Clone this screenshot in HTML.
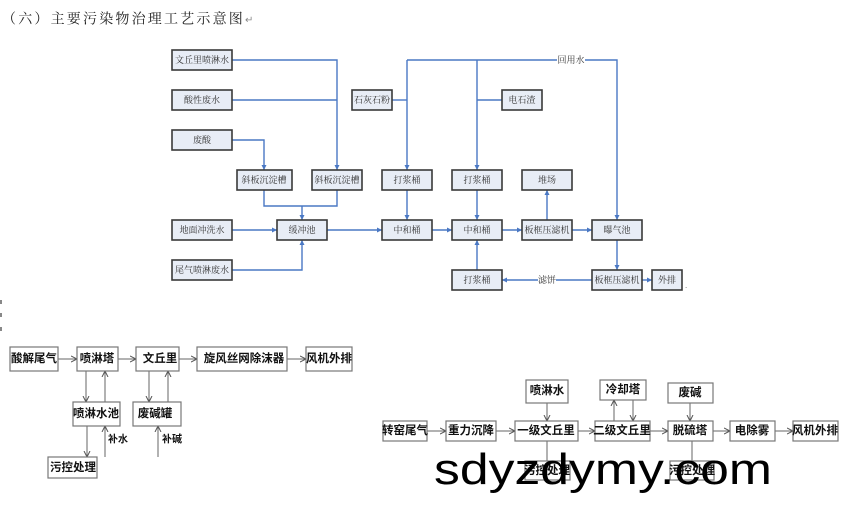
<!DOCTYPE html>
<html><head><meta charset="utf-8"><style>
html,body{margin:0;padding:0;background:#fff;width:868px;height:511px;overflow:hidden}
svg{display:block}
.t{font-family:"Liberation Serif","Noto Serif CJK SC",serif;font-size:9px;fill:#333;text-anchor:middle;dominant-baseline:central}
.b{font-family:"Liberation Sans","Noto Sans CJK SC",sans-serif;font-size:11.5px;font-weight:bold;fill:#111;text-anchor:middle;dominant-baseline:central}
.bx{fill:#e8edf6;stroke:#3a3a3a;stroke-width:1.6}
.wb{fill:#fff;stroke:#777;stroke-width:1.2}
.ln{stroke:#4a78c4;stroke-width:1.4;fill:none}
.gl{stroke:#666;stroke-width:1;fill:none}
</style></head><body>
<svg width="868" height="511" viewBox="0 0 868 511">
<defs>
<marker id="a" markerWidth="6" markerHeight="6" refX="5" refY="3" orient="auto" markerUnits="userSpaceOnUse"><path d="M0,0.5 L5,3 L0,5.5z" fill="#4a78c4"/></marker>
<marker id="g" markerWidth="8" markerHeight="8" refX="6" refY="4" orient="auto" markerUnits="userSpaceOnUse"><path d="M0,1 L6,4 L0,7" fill="none" stroke="#555" stroke-width="1"/></marker>
</defs>
<text x="2" y="20" style="font-family:'Liberation Serif','Noto Serif CJK SC',serif;font-size:14px;fill:#222;dominant-baseline:central;letter-spacing:2.2px">（六）主要污染物治理工艺示意图<tspan font-size="10" fill="#888">↵</tspan></text>
<rect x="0" y="300" width="2" height="4" fill="#888"/><rect x="0" y="313" width="2" height="4" fill="#888"/><rect x="0" y="327" width="2" height="4" fill="#888"/>

<path class="ln" d="M232,60 H337 V170" marker-end="url(#a)"/>
<path class="ln" d="M232,100 H337"/>
<path class="ln" d="M232,140 H264 V170" marker-end="url(#a)"/>
<path class="ln" d="M264,190 V206 H337 V190"/>
<path class="ln" d="M302,206 V220" marker-end="url(#a)"/>
<path class="ln" d="M232,230 H277" marker-end="url(#a)"/>
<path class="ln" d="M232,270 H302 V240" marker-end="url(#a)"/>
<path class="ln" d="M327,230 H382" marker-end="url(#a)"/>
<path class="ln" d="M407,60 V170" marker-end="url(#a)"/>
<path class="ln" d="M407,60 H557 M585,60 H617 V220" marker-end="url(#a)"/>
<path class="ln" d="M477,60 V170" marker-end="url(#a)"/>
<path class="ln" d="M392,100 H407"/>
<path class="ln" d="M502,100 H477"/>
<path class="ln" d="M407,190 V220" marker-end="url(#a)"/>
<path class="ln" d="M477,190 V220" marker-end="url(#a)"/>
<path class="ln" d="M432,230 H452" marker-end="url(#a)"/>
<path class="ln" d="M502,230 H522" marker-end="url(#a)"/>
<path class="ln" d="M547,220 V190" marker-end="url(#a)"/>
<path class="ln" d="M572,230 H592" marker-end="url(#a)"/>
<path class="ln" d="M617,240 V270" marker-end="url(#a)"/>
<path class="ln" d="M642,280 H652" marker-end="url(#a)"/>
<path class="ln" d="M592,280 H556 M538,280 H502" marker-end="url(#a)"/>
<path class="ln" d="M477,270 V240" marker-end="url(#a)"/>
<text class="t" x="571" y="60">回用水</text>
<text class="t" x="547" y="280">滤饼</text>

<g>
<rect class="bx" x="172" y="50" width="60" height="20"/><text class="t" x="202" y="60">文丘里喷淋水</text>
<rect class="bx" x="172" y="90" width="60" height="20"/><text class="t" x="202" y="100">酸性废水</text>
<rect class="bx" x="172" y="130" width="60" height="20"/><text class="t" x="202" y="140">废酸</text>
<rect class="bx" x="237" y="170" width="55" height="20"/><text class="t" x="264" y="180">斜板沉淀槽</text>
<rect class="bx" x="312" y="170" width="50" height="20"/><text class="t" x="337" y="180">斜板沉淀槽</text>
<rect class="bx" x="172" y="220" width="60" height="20"/><text class="t" x="202" y="230">地面冲洗水</text>
<rect class="bx" x="277" y="220" width="50" height="20"/><text class="t" x="302" y="230">缓冲池</text>
<rect class="bx" x="172" y="260" width="60" height="20"/><text class="t" x="202" y="270">尾气喷淋废水</text>
<rect class="bx" x="352" y="90" width="40" height="20"/><text class="t" x="372" y="100">石灰石粉</text>
<rect class="bx" x="382" y="170" width="50" height="20"/><text class="t" x="407" y="180">打浆桶</text>
<rect class="bx" x="382" y="220" width="50" height="20"/><text class="t" x="407" y="230">中和桶</text>
<rect class="bx" x="502" y="90" width="40" height="20"/><text class="t" x="522" y="100">电石渣</text>
<rect class="bx" x="452" y="170" width="50" height="20"/><text class="t" x="477" y="180">打浆桶</text>
<rect class="bx" x="452" y="220" width="50" height="20"/><text class="t" x="477" y="230">中和桶</text>
<rect class="bx" x="452" y="270" width="50" height="20"/><text class="t" x="477" y="280">打浆桶</text>
<rect class="bx" x="522" y="170" width="50" height="20"/><text class="t" x="547" y="180">堆场</text>
<rect class="bx" x="522" y="220" width="50" height="20"/><text class="t" x="547" y="230">板框压滤机</text>
<rect class="bx" x="592" y="220" width="50" height="20"/><text class="t" x="617" y="230">曝气池</text>
<rect class="bx" x="592" y="270" width="50" height="20"/><text class="t" x="617" y="280">板框压滤机</text>
<rect class="bx" x="652" y="270" width="30" height="20"/><text class="t" x="667" y="280">外排</text>
<text x="685" y="288" style="font-size:8px;fill:#666;font-family:'Liberation Sans'">.</text>
</g>

<path class="gl" d="M58,359 H77" marker-end="url(#g)"/>
<path class="gl" d="M118,359 H136" marker-end="url(#g)"/>
<path class="gl" d="M179,359 H197" marker-end="url(#g)"/>
<path class="gl" d="M287,359 H306" marker-end="url(#g)"/>
<path class="gl" d="M86,371 V402" marker-end="url(#g)"/>
<path class="gl" d="M105,402 V371" marker-end="url(#g)"/>
<path class="gl" d="M87,426 V457" marker-end="url(#g)"/>
<path class="gl" d="M105,457 V426" marker-end="url(#g)"/>
<path class="gl" d="M149,371 V402" marker-end="url(#g)"/>
<path class="gl" d="M168,402 V371" marker-end="url(#g)"/>
<path class="gl" d="M158,457 V426" marker-end="url(#g)"/>
<rect class="wb" x="10" y="347" width="48" height="24"/><text class="b" x="34" y="359">酸解尾气</text>
<rect class="wb" x="77" y="347" width="41" height="24"/><text class="b" x="97" y="359">喷淋塔</text>
<rect class="wb" x="136" y="347" width="43" height="24"/><text class="b" x="160" y="359">文丘里</text>
<rect class="wb" x="197" y="347" width="90" height="24"/><text class="b" x="244" y="359">旋风丝网除沫器</text>
<rect class="wb" x="306" y="347" width="46" height="24"/><text class="b" x="329" y="359">风机外排</text>
<rect class="wb" x="73" y="402" width="47" height="24"/><text class="b" x="96" y="414">喷淋水池</text>
<rect class="wb" x="133" y="402" width="48" height="24"/><text class="b" x="155" y="414">废碱罐</text>
<rect class="wb" x="48" y="457" width="49" height="21"/><text class="b" x="73" y="468">污控处理</text>
<text class="b" x="118" y="440" style="font-size:10px">补水</text>
<text class="b" x="172" y="440" style="font-size:10px">补碱</text>

<path class="gl" d="M427,431 H446" marker-end="url(#g)"/>
<path class="gl" d="M496,431 H515" marker-end="url(#g)"/>
<path class="gl" d="M578,431 H595" marker-end="url(#g)"/>
<path class="gl" d="M650,431 H668" marker-end="url(#g)"/>
<path class="gl" d="M713,431 H730" marker-end="url(#g)"/>
<path class="gl" d="M775,431 H793" marker-end="url(#g)"/>
<path class="gl" d="M547,403 V421" marker-end="url(#g)"/>
<path class="gl" d="M614,421 V400" marker-end="url(#g)"/>
<path class="gl" d="M633,400 V421" marker-end="url(#g)"/>
<path class="gl" d="M690,403 V421" marker-end="url(#g)"/>
<path class="gl" d="M547,441 V461"/>
<path class="gl" d="M692,441 V461"/>
<rect class="wb" x="383" y="421" width="44" height="20"/><text class="b" x="405" y="431">转窑尾气</text>
<rect class="wb" x="446" y="421" width="50" height="20"/><text class="b" x="471" y="431">重力沉降</text>
<rect class="wb" x="515" y="421" width="63" height="20"/><text class="b" x="546" y="431">一级文丘里</text>
<rect class="wb" x="595" y="421" width="55" height="20"/><text class="b" x="622" y="431">二级文丘里</text>
<rect class="wb" x="668" y="421" width="45" height="20"/><text class="b" x="690" y="431">脱硫塔</text>
<rect class="wb" x="730" y="421" width="45" height="20"/><text class="b" x="752" y="431">电除雾</text>
<rect class="wb" x="793" y="421" width="45" height="20"/><text class="b" x="815" y="431">风机外排</text>
<rect class="wb" x="526" y="380" width="42" height="23"/><text class="b" x="547" y="391">喷淋水</text>
<rect class="wb" x="600" y="380" width="46" height="20"/><text class="b" x="623" y="390">冷却塔</text>
<rect class="wb" x="668" y="383" width="45" height="20"/><text class="b" x="690" y="393">废碱</text>
<rect class="wb" x="525" y="461" width="45" height="19"/><text class="b" x="547" y="471">污控处理</text>
<rect class="wb" x="670" y="461" width="44" height="19"/><text class="b" x="692" y="471">污控处理</text>

<text x="434" y="484" style="font-family:'Liberation Sans','DejaVu Sans',sans-serif;font-size:44px;fill:#000" textLength="338" lengthAdjust="spacingAndGlyphs">sdyzdymy.com</text>
</svg>
</body></html>
